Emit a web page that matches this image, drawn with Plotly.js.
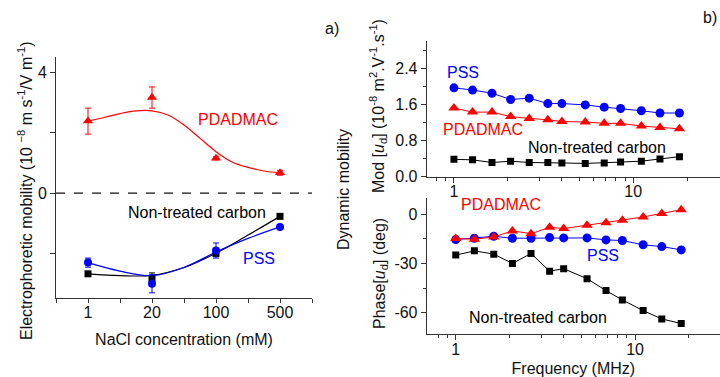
<!DOCTYPE html>
<html>
<head>
<meta charset="utf-8">
<script src="https://cdn.plot.ly/plotly-3.0.1.min.js"></script>
<style>html,body{margin:0;padding:0;background:#fff;}#chart{width:720px;height:377px;}</style>
</head>
<body>
<div id="chart"></div>
<script>
// ---------- Panel a) : electrophoretic mobility vs NaCl concentration ----------
const concLabels = ["1", "20", "100", "500"];
const concPos = [0, 1, 2, 3];

const pdadmacEM = [2.38, 3.16, 1.15, 0.67];
const pdadmacEMerr = [0.43, 0.35, 0.05, 0.08];
const pssEM = [-2.30, -3.00, -1.90, -1.12];
const pssEMerr = [0.15, 0.30, 0.25, 0.05];
const carbonEM = [-2.67, -2.84, -1.99, -0.77];
const carbonEMerr = [0.05, 0.20, 0.10, 0.05];

// fitted curves
const fitPos = [0, 0.25, 0.5, 0.75, 1, 1.25, 1.5, 1.75, 2, 2.25, 2.5, 2.75, 3];
const pdadmacFit = [2.38, 2.50, 2.63, 2.72, 2.72, 2.58, 2.25, 1.81, 1.37, 1.03, 0.85, 0.73, 0.67];
const fitPos2 = [0, 0.5, 1, 1.5, 2, 2.5, 3];
const carbonFit = [-2.67, -2.73, -2.72, -2.46, -1.99, -1.39, -0.77];
const pssFit = [-2.30, -2.58, -2.73, -2.46, -1.95, -1.50, -1.12];

// ---------- Panel b) : dynamic mobility vs frequency ----------
const freq = [1.0, 1.27, 1.63, 2.07, 2.63, 3.34, 4.0, 5.4, 6.89, 8.5, 11.1, 14.1, 18.1];
const pssMod = [1.96, 1.91, 1.84, 1.70, 1.73, 1.61, 1.61, 1.58, 1.53, 1.50, 1.45, 1.40, 1.40];
const pdadmacMod = [1.51, 1.42, 1.42, 1.32, 1.28, 1.25, 1.21, 1.20, 1.17, 1.17, 1.11, 1.08, 1.05];
const carbonMod = [0.37, 0.36, 0.30, 0.33, 0.30, 0.30, 0.29, 0.28, 0.29, 0.31, 0.33, 0.38, 0.43];
const pdadmacPhase = [-14.8, -15.2, -13.8, -10.1, -11.8, -7.9, -8.7, -6.7, -5.1, -3.6, -1.6, 0.6, 2.8];
const pssPhase = [-15.4, -14.6, -13.4, -14.6, -14.6, -14.2, -14.4, -14.4, -15.6, -16.0, -18.6, -19.7, -21.7];
const carbonPhase = [-24.9, -22.3, -24.3, -30.0, -23.9, -34.7, -33.2, -39.3, -46.6, -52.3, -58.8, -63.9, -66.7];

const leftYTicks = [0, 4];
const leftYText = ["0", "4"];
const leftYMinor = [-2, 2];
const modTicks = [0, 0.8, 1.6, 2.4];
const modText = ["0.0", "0.8", "1.6", "2.4"];
const phaseTicks = [-60, -30, 0];
const phaseText = ["-60", "-30", "0"];
const freqTicks = [1, 10];
const freqText = ["1", "10"];
const freqMinor = [0.8, 0.9, 2, 3, 4, 5, 6, 7, 8, 9, 20];

const RED = "#ff0000", BLUE = "#0000ff", BLACK = "#000000";
const W = 720, H = 377;
const px = v => v / W;
const py = v => 1 - v / H;
const FONT = "Liberation Sans, Arial, sans-serif";

const traces = [
  // fits
  {x: fitPos, y: pdadmacFit, mode: "lines", line: {color: RED, width: 1.2, shape: "spline"}, xaxis: "x", yaxis: "y", hoverinfo: "skip"},
  {x: fitPos2, y: carbonFit, mode: "lines", line: {color: BLACK, width: 1.2, shape: "spline"}, xaxis: "x", yaxis: "y", hoverinfo: "skip"},
  {x: fitPos2, y: pssFit, mode: "lines", line: {color: BLUE, width: 1.2, shape: "spline"}, xaxis: "x", yaxis: "y", hoverinfo: "skip"},
  // points
  {x: concPos, y: carbonEM, mode: "markers", name: "Non-treated carbon",
   marker: {symbol: "square", size: 7, color: BLACK},
   error_y: {type: "data", array: carbonEMerr, color: BLACK, thickness: 1, width: 3}, xaxis: "x", yaxis: "y"},
  {x: concPos, y: pssEM, mode: "markers", name: "PSS",
   marker: {symbol: "circle", size: 8, color: BLUE},
   error_y: {type: "data", array: pssEMerr, color: BLUE, thickness: 1, width: 3}, xaxis: "x", yaxis: "y"},
  {x: concPos, y: pdadmacEM, mode: "markers", name: "PDADMAC",
   marker: {symbol: "triangle-up", size: 9, color: RED},
   error_y: {type: "data", array: pdadmacEMerr, color: RED, thickness: 1, width: 3}, xaxis: "x", yaxis: "y"},
  // mod
  {x: freq, y: pssMod, mode: "lines+markers", line: {color: BLUE, width: 1}, marker: {symbol: "circle", size: 9, color: BLUE}, xaxis: "x2", yaxis: "y2"},
  {x: freq, y: pdadmacMod, mode: "lines+markers", line: {color: RED, width: 1}, marker: {symbol: "triangle-up", size: 10, color: RED}, xaxis: "x2", yaxis: "y2"},
  {x: freq, y: carbonMod, mode: "lines+markers", line: {color: BLACK, width: 1}, marker: {symbol: "square", size: 7, color: BLACK}, xaxis: "x2", yaxis: "y2"},
  // phase
  {x: freq, y: carbonPhase, mode: "lines+markers", line: {color: BLACK, width: 1}, marker: {symbol: "square", size: 7, color: BLACK}, xaxis: "x3", yaxis: "y3"},
  {x: freq, y: pssPhase, mode: "lines+markers", line: {color: BLUE, width: 1}, marker: {symbol: "circle", size: 9, color: BLUE}, xaxis: "x3", yaxis: "y3"},
  {x: freq, y: pdadmacPhase, mode: "lines+markers", line: {color: RED, width: 1}, marker: {symbol: "triangle-up", size: 10, color: RED}, xaxis: "x3", yaxis: "y3"}
];

const axisBase = {
  showline: true, linecolor: "#333", linewidth: 1, showgrid: false, zeroline: false,
  ticks: "outside", ticklen: 5, tickwidth: 1, tickcolor: "#333",
  tickfont: {family: FONT, size: 16, color: "#111"}
};

const layout = {
  width: W, height: H,
  margin: {l: 0, r: 0, t: 0, b: 0},
  paper_bgcolor: "#fff", plot_bgcolor: "rgba(0,0,0,0)",
  showlegend: false,
  font: {family: FONT, size: 16, color: "#111"},
  xaxis: Object.assign({}, axisBase, {
    domain: [px(56), px(312)], anchor: "y", range: [-0.5, 3.5],
    tickvals: concPos, ticktext: concLabels, ticklen: 4, ticklabelstandoff: -4,
    minor: {tickvals: [-0.5, 0.5, 1.5, 2.5, 3.5], ticks: "outside", ticklen: 4, tickcolor: "#333"},
    title: {text: "NaCl concentration (mM)", font: {family: FONT, size: 16, color: "#111"}, standoff: 13}
  }),
  yaxis: Object.assign({}, axisBase, {
    domain: [py(298), py(57)], anchor: "x", range: [-3.47, 4.5],
    tickvals: leftYTicks, ticktext: leftYText, ticklen: 5,
    minor: {tickvals: leftYMinor, ticks: "outside", ticklen: 5, tickcolor: "#333"}
  }),
  xaxis2: Object.assign({}, axisBase, {
    type: "log", domain: [px(426.7), 1], anchor: "y2", range: [-0.152, 1.484],
    tickvals: freqTicks, ticktext: freqText, ticklabelstandoff: -5,
    minor: {tickvals: freqMinor, ticks: "outside", ticklen: 3, tickcolor: "#333"}
  }),
  yaxis2: Object.assign({}, axisBase, {
    domain: [py(176.7), py(41)], anchor: "x2", range: [-0.015, 3.0],
    tickvals: modTicks, ticktext: modText,
    minor: {dtick: 0.4, ticks: "outside", ticklen: 3, tickcolor: "#333"}
  }),
  xaxis3: Object.assign({}, axisBase, {
    type: "log", domain: [px(426.7), 1], anchor: "y3", range: [-0.162, 1.474],
    tickvals: freqTicks, ticktext: freqText, ticklabelstandoff: -4,
    minor: {tickvals: freqMinor, ticks: "outside", ticklen: 3, tickcolor: "#333"},
    title: {text: "Frequency (MHz)", font: {family: FONT, size: 16, color: "#111"}, standoff: 6}
  }),
  yaxis3: Object.assign({}, axisBase, {
    domain: [py(333.5), py(198)], anchor: "x3", range: [-72.8, 10],
    tickvals: phaseTicks, ticktext: phaseText,
    minor: {dtick: 15, ticks: "outside", ticklen: 3, tickcolor: "#333"}
  }),
  shapes: [
    {type: "line", xref: "x domain", yref: "y", x0: 0, x1: 1, y0: 0, y1: 0,
     line: {color: "#111", width: 1.2, dash: "dash"}}
  ],
  annotations: [
    {text: "Electrophoretic mobility (10 <sup>\u22128</sup> m s<sup>-1</sup>/V m<sup>-1</sup>)", x: px(25), y: py(191), textangle: -90},
    {text: "Dynamic mobility", x: px(343), y: py(190), textangle: -90},
    {text: "Mod [<i>u</i><sub>d</sub>] (10<sup>-8</sup> m<sup>2</sup>.V<sup>-1</sup>.s<sup>-1</sup>)", x: px(378), y: py(106), textangle: -90},
    {text: "Phase[<i>u</i><sub>d</sub>] (deg)", x: px(380), y: py(274), textangle: -90},
    {text: "a)", x: px(332), y: py(28)},
    {text: "b)", x: px(710), y: py(18)},
    {text: "PDADMAC", x: px(238), y: py(119), color: RED},
    {text: "Non-treated carbon", x: px(197), y: py(212), color: BLACK},
    {text: "PSS", x: px(259), y: py(258), color: BLUE},
    {text: "PSS", x: px(463), y: py(72), color: BLUE},
    {text: "PDADMAC", x: px(483), y: py(129), color: RED},
    {text: "Non-treated carbon", x: px(597), y: py(147), color: BLACK},
    {text: "PDADMAC", x: px(501), y: py(205), color: RED},
    {text: "PSS", x: px(603), y: py(255), color: BLUE},
    {text: "Non-treated carbon", x: px(538), y: py(317), color: BLACK}
  ].map(a => ({
    text: a.text, x: a.x, y: a.y, xref: "paper", yref: "paper",
    xanchor: "center", yanchor: "middle", showarrow: false,
    textangle: a.textangle || 0,
    font: {family: FONT, size: 16, color: a.color || "#111"}
  }))
};

Plotly.newPlot("chart", traces, layout, {staticPlot: true, displayModeBar: false});
</script>
</body>
</html>
